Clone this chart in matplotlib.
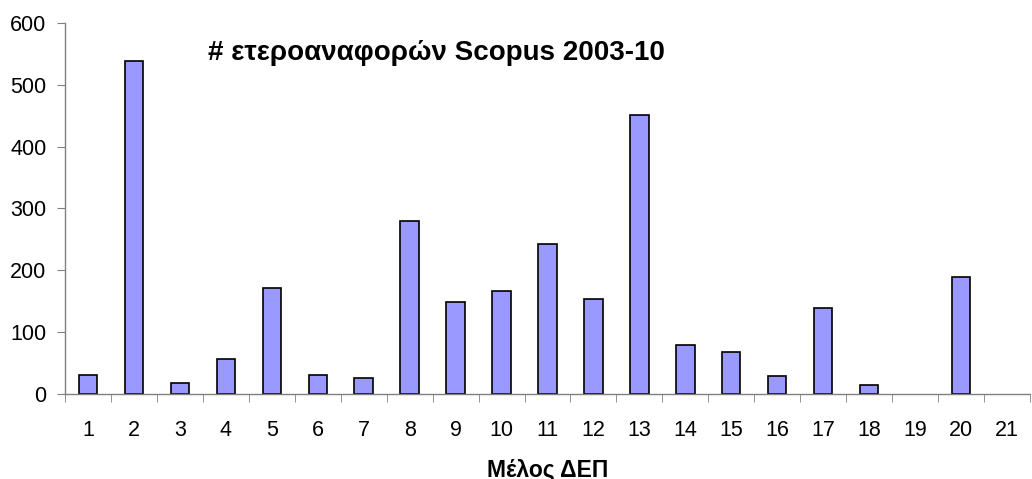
import numpy as np
import matplotlib
matplotlib.use('Agg')
import matplotlib.pyplot as plt

plt.rcParams['font.family'] = ['Liberation Sans', 'DejaVu Sans']

members = [str(i) for i in range(1, 22)]
citations = [31, 538, 17, 56, 172, 31, 26, 280, 149, 167, 242,
             153, 451, 79, 68, 29, 139, 14, 0, 189, 0]

title = '# ετεροαναφορών Scopus 2003-10'
xlabel = 'Μέλος ΔΕΠ'
yticks = [0, 100, 200, 300, 400, 500, 600]

fig = plt.figure(figsize=(10.32, 4.79), dpi=100)
ax = fig.add_axes([0.063, 0.1775, 0.935, 0.7745])

x = np.arange(len(members))
# no outline for empty bars (Excel draws nothing there)
edge_w = [1.2 if v > 0 else 0 for v in citations]
ax.bar(x, citations, width=0.4, color='#9999FF', edgecolor='black', linewidth=edge_w)

ax.set_xlim(-0.5, len(members) - 0.5)
ax.set_ylim(0, 600)
ax.set_yticks(yticks)
ax.set_xticks(x)
ax.set_xticklabels(members)
ax.set_xticks(np.arange(len(members) + 1) - 0.5, minor=True)
ax.tick_params(axis='x', which='major', length=0, pad=19, labelsize=15.5)
ax.tick_params(axis='x', which='minor', length=5.5, color='#808080', direction='out')
ax.tick_params(axis='y', length=5.5, color='#808080', pad=8, labelsize=15.5)

for side in ['top', 'right']:
    ax.spines[side].set_visible(False)
for side in ['left', 'bottom']:
    ax.spines[side].set_color('#808080')
    ax.spines[side].set_linewidth(1.0)

ax.text(0.385, 0.92, title, transform=ax.transAxes, ha='center', va='center',
        fontsize=20, fontweight='bold')
ax.set_xlabel(xlabel, fontsize=16.5, fontweight='bold', labelpad=12)

fig.savefig('out.png', dpi=100)
